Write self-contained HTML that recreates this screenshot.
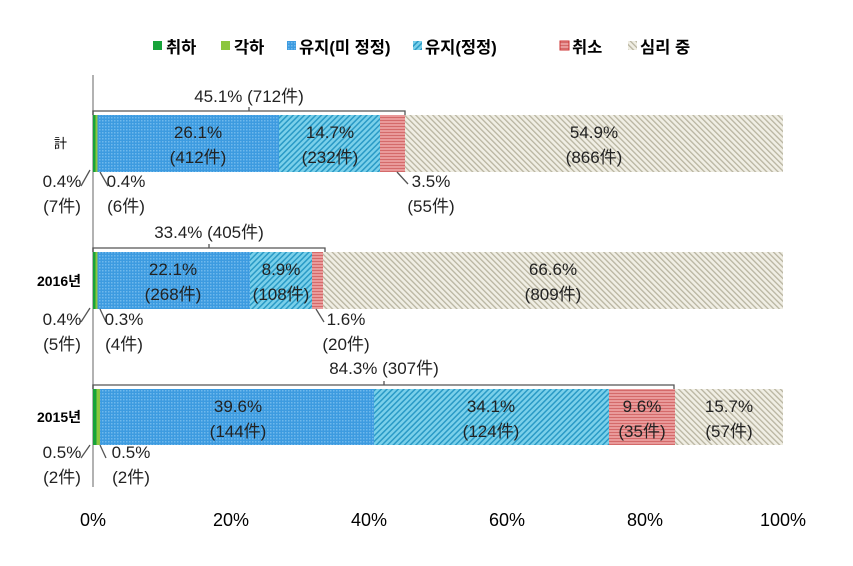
<!DOCTYPE html>
<html><head><meta charset="utf-8"><style>
body{margin:0;background:#fff;}
svg text{font-family:"Liberation Sans","Noto Sans CJK KR",sans-serif;}
</style></head><body>
<svg width="853" height="561" xmlns="http://www.w3.org/2000/svg">
<defs>
<pattern id="pb" width="3" height="3" patternUnits="userSpaceOnUse"><rect width="3" height="3" fill="#3d9be0"/><rect width="1.5" height="1.5" fill="#6fb8ec"/></pattern>
<pattern id="pc" width="4" height="4" patternUnits="userSpaceOnUse" patternTransform="rotate(45)"><rect width="4" height="4" fill="#7ad0ea"/><rect width="1.5" height="4" fill="#2a9ac6"/></pattern>
<pattern id="pr" width="4" height="3" patternUnits="userSpaceOnUse"><rect width="4" height="3" fill="#e99a9a"/><rect width="4" height="1" fill="#d46a6a"/></pattern>
<pattern id="pg" width="4" height="4" patternUnits="userSpaceOnUse" patternTransform="rotate(-45)"><rect width="4" height="4" fill="#f0eee4"/><rect width="1.3" height="4" fill="#b8b4a0"/></pattern>
</defs>
<g font-size="16.5" fill="#000" font-weight="bold">
<rect x="153" y="41" width="9" height="9" fill="#17a33a"/><text x="166" y="53">취하</text>
<rect x="221" y="41" width="9" height="9" fill="#8cc63f"/><text x="234" y="53">각하</text>
<rect x="287" y="41" width="9" height="9" fill="url(#pb)"/><text x="299" y="53">유지(미 정정)</text>
<rect x="413" y="41" width="9" height="9" fill="url(#pc)"/><text x="425" y="53">유지(정정)</text>
<rect x="560" y="41" width="9" height="9" fill="url(#pr)" stroke="#c33" stroke-width="1"/><text x="572" y="53">취소</text>
<rect x="628" y="41" width="9" height="9" fill="url(#pg)"/><text x="640" y="53">심리 중</text>
</g>
<line x1="93" y1="75" x2="93" y2="487" stroke="#999" stroke-width="1.5"/>
<g>
<rect x="97" y="115" width="182" height="57" fill="url(#pb)"/>
<rect x="279" y="115" width="101" height="57" fill="url(#pc)"/>
<rect x="380" y="115" width="25" height="57" fill="url(#pr)"/>
<rect x="405" y="115" width="378" height="57" fill="url(#pg)"/>
<rect x="93" y="115" width="2.5" height="57" fill="#17a33a"/>
<rect x="95.5" y="115" width="2" height="57" fill="#8cc63f"/>
</g>
<g>
<rect x="97" y="252" width="153" height="57" fill="url(#pb)"/>
<rect x="250" y="252" width="62" height="57" fill="url(#pc)"/>
<rect x="312" y="252" width="11" height="57" fill="url(#pr)"/>
<rect x="323" y="252" width="460" height="57" fill="url(#pg)"/>
<rect x="93" y="252" width="2.5" height="57" fill="#17a33a"/>
<rect x="95.5" y="252" width="2" height="57" fill="#8cc63f"/>
</g>
<g>
<rect x="100" y="389" width="274" height="56" fill="url(#pb)"/>
<rect x="374" y="389" width="235" height="56" fill="url(#pc)"/>
<rect x="609" y="389" width="66" height="56" fill="url(#pr)"/>
<rect x="675" y="389" width="108" height="56" fill="url(#pg)"/>
<rect x="93" y="389" width="3.5" height="56" fill="#17a33a"/>
<rect x="96.5" y="389" width="3.5" height="56" fill="#8cc63f"/>
</g>
<g stroke="#555" stroke-width="1.3" fill="none">
<path d="M93 115 V111 H405 V115 M249 111 V107"/>
<path d="M93 252 V248 H325 V252 M209 248 V244"/>
<path d="M93 389 V385 H674 V389 M384 385 V381"/>
<path d="M81 186 L90 170 M100 172 L108 186 M397 172 L408 184"/>
<path d="M81 322 L90 308 M100 309 L106 322 M316 309 L324 322"/>
<path d="M81 458 L90 445 M100 445 L106 458"/>
</g>
<g font-size="17" fill="#222" text-anchor="middle">
<text x="249" y="102">45.1% (712件)</text>
<text x="198" y="138">26.1%</text><text x="198" y="163">(412件)</text>
<text x="330" y="138">14.7%</text><text x="330" y="163">(232件)</text>
<text x="594" y="138">54.9%</text><text x="594" y="163">(866件)</text>
<text x="62" y="187">0.4%</text><text x="62" y="212">(7件)</text>
<text x="126" y="187">0.4%</text><text x="126" y="212">(6件)</text>
<text x="431" y="187">3.5%</text><text x="431" y="212">(55件)</text>
<text x="209" y="238">33.4% (405件)</text>
<text x="173" y="275">22.1%</text><text x="173" y="300">(268件)</text>
<text x="281" y="275">8.9%</text><text x="281" y="300">(108件)</text>
<text x="553" y="275">66.6%</text><text x="553" y="300">(809件)</text>
<text x="62" y="325">0.4%</text><text x="62" y="350">(5件)</text>
<text x="124" y="325">0.3%</text><text x="124" y="350">(4件)</text>
<text x="346" y="325">1.6%</text><text x="346" y="350">(20件)</text>
<text x="384" y="374">84.3% (307件)</text>
<text x="238" y="412">39.6%</text><text x="238" y="437">(144件)</text>
<text x="491" y="412">34.1%</text><text x="491" y="437">(124件)</text>
<text x="642" y="412">9.6%</text><text x="642" y="437">(35件)</text>
<text x="729" y="412">15.7%</text><text x="729" y="437">(57件)</text>
<text x="62" y="458">0.5%</text><text x="62" y="483">(2件)</text>
<text x="131" y="458">0.5%</text><text x="131" y="483">(2件)</text>
</g>
<g font-size="14" fill="#000" text-anchor="end" font-weight="bold">
<text x="67" y="148" font-weight="normal" font-size="13">計</text>
<text x="81" y="286">2016년</text>
<text x="81" y="422">2015년</text>
</g>
<g font-size="18" fill="#000" text-anchor="middle">
<text x="93" y="526">0%</text><text x="231" y="526">20%</text><text x="369" y="526">40%</text><text x="507" y="526">60%</text><text x="645" y="526">80%</text><text x="783" y="526">100%</text>
</g>
</svg>
</body></html>
